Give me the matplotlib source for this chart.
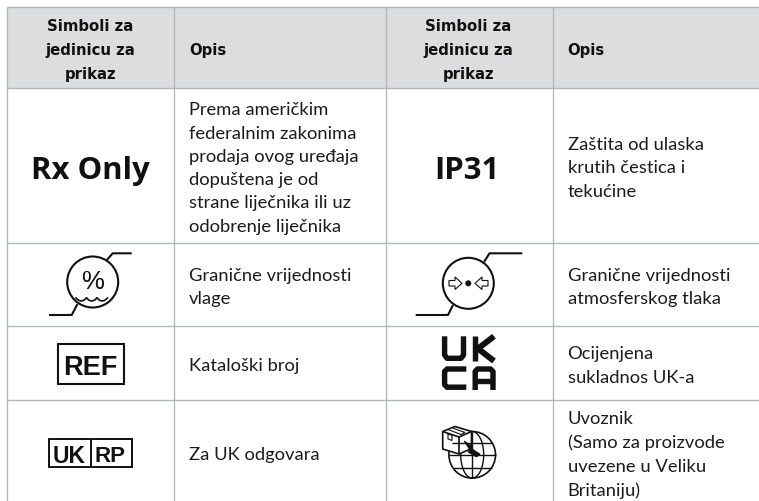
import matplotlib
matplotlib.use('Agg')
import matplotlib.pyplot as plt
from matplotlib.patches import Circle, Ellipse, Polygon, Rectangle

# table contents
header_symbol = "Simboli za\njedinicu za\nprikaz"
header_desc = "Opis"
left_desc = ["Prema američkim\nfederalnim zakonima\nprodaja ovog uređaja\ndopuštena je od\nstrane liječnika ili uz\nodobrenje liječnika",
             "Granične vrijednosti\nvlage",
             "Kataloški broj",
             "Za UK odgovara"]
right_desc = ["Zaštita od ulaska\nkrutih čestica i\ntekućine",
              "Granične vrijednosti\natmosferskog tlaka",
              "Ocijenjena\nsukladnos UK-a",
              "Uvoznik\n(Samo za proizvode\nuvezene u Veliku\nBritaniju)"]
col_edges = [7, 173.5, 385.5, 552.5]
row_edges = [8, 89, 243.5, 327, 400.5]
row_centers = [168.5, 287.5, 366, 455]

GRID = '#b4b5b7'
HEAD = '#dcddde'
INK = '#111111'
BODY = 'Lato'

fig = plt.figure(figsize=(7.59, 5.02), dpi=100)
ax = fig.add_axes([0, 0, 1, 1])
ax.set_xlim(0, 759)
ax.set_ylim(502, 0)
ax.axis('off')


def stroke(xs, ys, lw=1.5, **kw):
    kw.setdefault('color', INK)
    kw.setdefault('solid_capstyle', 'butt')
    ax.plot(xs, ys, lw=lw, **kw)


# header band and grid
ax.add_patch(Rectangle((col_edges[0], row_edges[0]), 759 - col_edges[0], row_edges[1] - row_edges[0], fc=HEAD, ec='none'))
for y in row_edges:
    stroke([col_edges[0], 759], [y, y], lw=0.95, color=GRID)
for x in col_edges:
    stroke([x, x], [row_edges[0], 502], lw=0.95, color=GRID)

# header text
for cx, tx in [(90.3, 189), (468.5, 567.5)]:
    ax.text(cx, 50.5, header_symbol, ha='center', va='center', fontsize=10.7, fontweight='bold',
            family='DejaVu Sans', color=INK, linespacing=1.74)
    ax.text(tx, 50.5, header_desc, ha='left', va='center', fontsize=10.7, fontweight='bold',
            family='DejaVu Sans', color=INK)

# description text
for tx, rows in [(189, left_desc), (567.5, right_desc)]:
    for cy, s in zip(row_centers, rows):
        ax.text(tx, cy, s, ha='left', va='center', fontsize=13.2, family=BODY, color='#1c1c1c', linespacing=1.56)

# big labels
ax.text(90.5, 171, "Rx Only", ha='center', va='center', fontsize=22.4, fontweight='bold', family='Open Sans', color=INK)
ax.text(467, 171, "IP31", ha='center', va='center', fontsize=22.4, fontweight='bold', family='Open Sans', color=INK)

# humidity limit symbol
ax.add_patch(Circle((92.7, 283), 25.5, fc='none', ec=INK, lw=1.5))
stroke([106, 112.7, 131.7], [262, 254.3, 254.3])
stroke([77.5, 71.7, 49], [305, 316, 316])
ax.text(92.7, 282, "%", ha='center', va='center', fontsize=18.5, family='Liberation Sans', color=INK)
for wx in [76, 86.5, 97]:
    ax.plot([wx, wx + 2.6, wx + 5.2, wx + 7.8, wx + 10.5], [299, 301.3, 302, 301.3, 299], color=INK, lw=1.2)

# pressure limit symbol
ax.add_patch(Circle((468.3, 284.3), 25.5, fc='none', ec=INK, lw=1.5))
stroke([484, 489.5, 522.3], [263, 254.3, 254.3])
stroke([453, 448, 415.7], [306, 316, 316])
ax.add_patch(Circle((468.3, 284.3), 3, fc=INK, ec='none'))
ax.add_patch(Polygon([(449, 281.5), (455, 281.5), (455, 278), (462, 284.3), (455, 290.5), (455, 287), (449, 287)],
                     fc='white', ec=INK, lw=0.8))
ax.add_patch(Polygon([(488, 281.5), (482, 281.5), (482, 278), (475, 284.3), (482, 290.5), (482, 287), (488, 287)],
                     fc='white', ec=INK, lw=0.8))

# REF box
ax.add_patch(Rectangle((58, 344.5), 66, 40.5, fc='none', ec=INK, lw=1.5))
ax.text(90.5, 365, "REF", ha='center', va='center_baseline', fontsize=19.5, fontweight='bold', family='Liberation Sans', color=INK)

# UK RP box
ax.add_patch(Rectangle((49.2, 440), 83, 28, fc='none', ec=INK, lw=1.4))
stroke([91, 91], [440, 468], lw=1.4)
ax.text(69.5, 454, "UK", ha='center', va='center_baseline', fontsize=16.5, fontweight='bold', family='Liberation Sans', color=INK)
ax.text(110.5, 454, "RP", ha='center', va='center_baseline', fontsize=16, fontweight='bold', family='Liberation Sans', color=INK)

# UKCA mark
UK_LW = 3.9
stroke([444.6, 444.6, 447, 461, 463.5, 463.5], [337.3, 356, 359.3, 359.3, 356, 337.3], lw=UK_LW, solid_joinstyle='round')
stroke([475.2, 475.2], [337.3, 362], lw=UK_LW)
stroke([494, 478, 494], [337.3, 349.6, 362], lw=UK_LW + 0.4, solid_joinstyle='miter')
stroke([466.3, 447, 444.6, 444.6, 447, 466.3], [370, 370, 372.5, 385.5, 388.2, 388.2], lw=UK_LW, solid_joinstyle='round')
stroke([475.2, 475.2, 477.5, 490.5, 493, 493], [391, 372.5, 370, 370, 372.5, 391], lw=UK_LW, solid_joinstyle='round')
stroke([475.2, 493], [381.5, 381.5], lw=UK_LW)

# importer symbol: globe with parcel
gx, gy, gr = 472.2, 455.8, 23.3
ax.add_patch(Circle((gx, gy), gr, fc='white', ec=INK, lw=1.2))
ax.add_patch(Ellipse((gx, gy), 23, 2 * gr, fc='none', ec=INK, lw=1.0))
stroke([gx, gx], [gy - gr, gy + gr], lw=1.0)
stroke([gx - gr, gx + gr], [gy, gy], lw=1.0)
stroke([gx - 20, gx + 20], [gy - 11.5, gy - 11.5], lw=1.0)
stroke([gx - 19.5, gx + 19.5], [gy + 13, gy + 13], lw=1.0)
ax.add_patch(Polygon([(442.7, 432.5), (442.7, 450), (459, 455), (471.5, 449.5), (471.5, 432.5), (455, 427.5)],
                     fc='white', ec=INK, lw=1.2, joinstyle='round'))
stroke([442.7, 459, 471.5], [432.5, 438, 432.5], lw=1.2)
stroke([459, 459], [438, 455], lw=1.2)
ax.add_patch(Polygon([(448, 430.5), (461, 435.5), (465, 433.5), (452, 428.8)], fc='white', ec=INK, lw=0.8))
ax.add_patch(Polygon([(448, 435), (452, 436.3), (452, 441.5), (448, 440)], fc='white', ec=INK, lw=0.8))
ax.add_patch(Polygon([(464, 442), (472, 447), (470.5, 449), (480, 455), (476.5, 458), (468, 453), (470, 451)], fc=INK, ec=INK, lw=0.6))

fig.savefig('out.png', dpi=100)
